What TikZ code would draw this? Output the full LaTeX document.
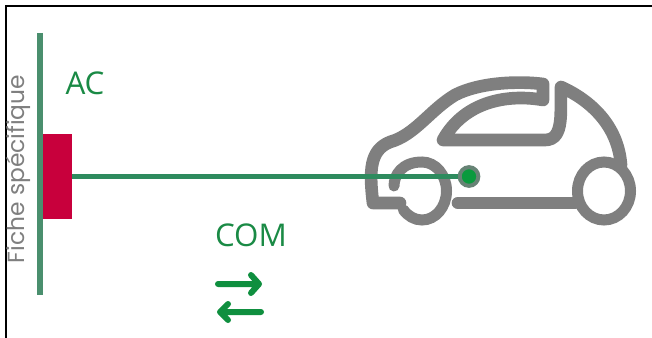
\documentclass[tikz,border=0pt]{standalone}
\usepackage{fontspec}
\setmainfont{Open Sans}
\newfontfamily\specfont{Poppins}
\definecolor{railgreen}{HTML}{4A8F6E}
\definecolor{wiregreen}{HTML}{2E8B5E}
\definecolor{textgreen}{HTML}{1A8A45}
\definecolor{arrowgreen}{HTML}{0F8F3F}
\definecolor{dotgreen}{HTML}{0A9A3E}
\definecolor{plugred}{HTML}{C8003C}
\definecolor{cargray}{HTML}{7F7F7F}
\tikzset{
  carline/.style={draw=cargray,line width=9.5pt,line cap=round,line join=round},
  wheelline/.style={draw=cargray,line width=8.25pt,line cap=round},
  comarrow/.style={draw=arrowgreen,line width=4.5pt,line cap=round,line join=round},
  greenlabel/.style={text=textgreen,inner sep=0pt,font=\fontsize{23.5}{23.5}\selectfont}
}
\begin{document}
\begin{tikzpicture}[x=0.75pt,y=-0.75pt]
\useasboundingbox (0,0) rectangle (652,338);
\draw[line width=1.5pt] (6,338) -- (6,6.5) -- (652,6.5);
\draw[railgreen,line width=3.8pt] (40,33) -- (40,295);
\node[rotate=90,text=cargray,inner sep=0pt,font=\specfont\fontsize{17.5}{17.5}\selectfont] (spec) at (18,169) {Fiche spécifique};
\node[greenlabel] (ac) at (85,83) {AC};
\node[greenlabel] (com) at (251,235) {COM};
% car
\draw[carline] (400,203) -- (373,203) .. controls (369,170) and (370,150) .. (390,142)
  .. controls (415,135) and (430,110) .. (455,95) .. controls (480,82) and (520,81) .. (543,84)
  -- (543,100) .. controls (510,94) and (465,100) .. (443,140) -- (545,140)
  .. controls (565,140) and (560,110) .. (561,87) .. controls (590,100) and (618,125) .. (621,165);
\draw[carline] (458,203) -- (575,203);
\draw[wheelline] (394,186) .. controls (394,175) and (402,162) .. (422,162)
  arc[start angle=-90,end angle=140,x radius=24.5,y radius=29];
\draw[wheelline] (604,191) ellipse[x radius=26.5,y radius=29];
% plug and wire
\node[fill=plugred,minimum width=21.75pt,minimum height=63.75pt,inner sep=0pt] (plug) at (57.5,176.5) {};
\node[circle,fill=dotgreen,draw=cargray!70!wiregreen,line width=3pt,minimum size=14pt,inner sep=0pt] (dot) at (469,176.5) {};
\draw[wiregreen,line width=3.5pt] (plug) -- (dot);
% arrows
\coordinate (upa) at (218,284);
\coordinate (upb) at (259,284);
\coordinate (lowa) at (261,312);
\coordinate (lowb) at (220,312);
\draw[comarrow] (upa) -- (upb) (251,275) -- (upb) -- (251,293);
\draw[comarrow] (lowa) -- (lowb) (228,304) -- (lowb) -- (228,320);
\end{tikzpicture}
\end{document}
